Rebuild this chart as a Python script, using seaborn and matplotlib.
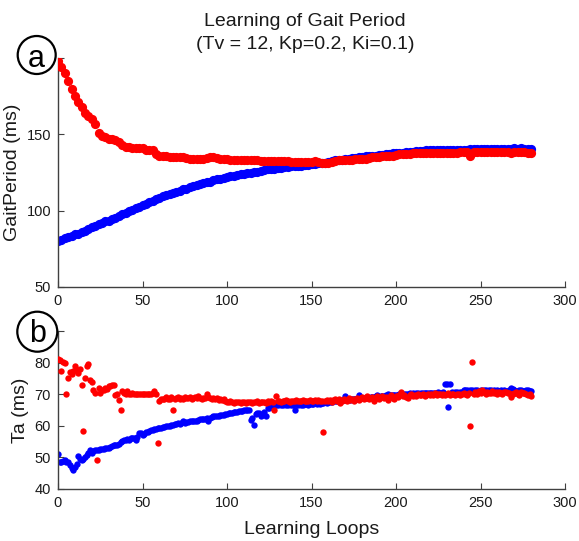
import numpy as np
import pandas as pd
import matplotlib
matplotlib.use("Agg")
import matplotlib.pyplot as plt
from matplotlib.patches import Ellipse
import seaborn as sns

# ---------------- data ----------------
title_line1 = "Learning of Gait Period"
title_line2 = "(Tv = 12, Kp=0.2, Ki=0.1)"

# top panel: gait period (ms), sampled every 2 learning loops
loops_top = list(range(0, 281, 2))
gait_red = [
    198, 194, 190, 185, 180, 175, 171, 168, 164, 162,
    160, 157, 151, 149, 148, 147, 147, 146, 145, 143,
    142, 142, 141, 141, 141, 141, 140, 140, 140, 137,
    136, 136, 135.5, 135, 135, 135, 135, 135, 134.5, 134,
    134, 134, 134, 134, 134.5, 135, 135, 134.5, 134, 134,
    134, 133.5, 133.5, 133.5, 133.5, 133, 133, 133, 133, 133,
    132.5, 132.5, 132.5, 132.5, 132.5, 132.5, 132.5, 132.5, 132.5, 132,
    132, 132, 132, 132, 132, 132, 132.5, 132, 131, 131,
    131.5, 132, 132.5, 133, 133, 133, 133.5, 133.5, 134, 134,
    134, 134, 134.5, 135, 135, 135, 135.5, 135.5, 136, 136,
    136.5, 137, 137, 137, 137, 137.5, 137.5, 137.5, 137.5, 137.5,
    138, 138, 138, 138, 138, 138, 138, 138, 138, 138.5,
    138.5, 138.5, 136, 138.5, 138.5, 138.5, 138.5, 138.5, 138.5, 138.5,
    138.5, 138.5, 138.5, 138.5, 137.5, 138.5, 138.5, 138.5, 138.5, 138,
    137.5,
]
gait_blue = [
    80, 81, 82, 83, 83.5, 84.5, 85, 86, 87, 88,
    89, 90, 91, 92, 93, 93.5, 94.5, 95.5, 96.5, 97.5,
    98.5, 99.5, 100.5, 101.5, 102.5, 103.5, 104.5, 105.5, 106.5, 107.5,
    108.5, 109.5, 110, 111, 111.5, 112.5, 113, 114, 114.5, 115.5,
    116, 116.5, 117.5, 118, 118.5, 119, 120, 120.5, 121, 121.5,
    122, 122.5, 123, 123.5, 124, 124, 124.5, 125, 125.5, 125.5,
    126, 126.5, 127, 127, 127.5, 128, 128, 128.5, 128.5, 129,
    129, 129.5, 129.5, 130, 130, 130.5, 130.5, 131, 131, 131.5,
    132, 132.5, 133, 133, 133.5, 134, 134, 134.5, 134.5, 135,
    135, 135.5, 135.5, 136, 136, 136.5, 136.5, 137, 137, 137.5,
    137.5, 138, 138, 138.5, 138.5, 138.5, 139, 139, 139, 139.5,
    139.5, 139.5, 139.5, 140, 140, 140, 140, 140, 140, 140,
    140, 140, 140.5, 140.5, 140.5, 140.5, 140.5, 140.5, 140.5, 140.5,
    140.5, 140.5, 140.5, 140.5, 140.5, 141, 140.5, 141, 140.5, 140.5,
    140.5,
]

# bottom panel: Ta (ms), every learning loop
loops_bot = list(range(0, 281))
ta_red = [
    81.2, 80.8, 77.2, 80.1, 80.0, 70.0, 75.0, 77.0, 76.5, 77.2,
    79.0, 77.8, 76.7, 78.0, 73.0, 58.2, 75.0, 78.8, 79.4, 74.6,
    74.0, 71.4, 70.5, 49.2, 72.0, 70.4, 71.4, 71.2, 72.0, 71.5,
    72.5, 72.5, 73.0, 73.0, 69.8, 70.0, 68.3, 64.9, 70.9, 70.5,
    70.0, 70.9, 70.0, 70.0, 70.5, 70.0, 70.0, 70.0, 70.0, 70.0,
    70.0, 70.0, 70.0, 70.0, 70.0, 70.0, 70.5, 70.9, 70.0, 54.5,
    67.7, 68.5, 68.5, 68.5, 69.0, 68.5, 68.5, 69.0, 65.0,
    68.5, 68.8, 69.0, 68.6, 68.9, 68.5, 69.0, 68.7, 68.9, 69.2,
    68.6, 68.8, 69.0, 68.7, 69.5, 68.8, 68.6, 68.9, 68.7, 70.2,
    69.0, 68.8, 68.6, 68.9, 68.5, 68.8, 68.3, 68.6, 68.2, 68.4, 68.0,
    67.5, 67.4, 67.8, 67.4, 67.3, 67.6, 67.4, 67.5, 67.2, 67.6,
    67.4, 67.3, 67.5, 67.4, 67.6, 67.3, 67.5, 67.4, 67.7, 67.2,
    67.5, 67.4, 67.6, 67.3, 67.8, 67.5, 68.0, 67.6,
    65.0, 69.5,
    67.8, 68.0, 67.6, 67.9, 67.7, 68.1, 67.8, 67.6, 68.0, 67.8,
    67.9, 68.1, 67.7, 68.0, 67.9, 68.2, 67.8, 68.0, 67.9, 68.1,
    67.8, 68.0, 68.2, 67.9, 68.1, 67.8, 68.0, 58.1, 67.9, 68.2,
    68.0, 68.3, 67.6, 68.2, 68.5, 67.8, 68.4, 67.2, 68.0, 68.6,
    68.3, 67.9, 68.8, 68.1, 68.5, 67.7, 68.6, 68.9, 68.2, 68.7,
    69.0, 68.4, 68.8, 69.3, 68.5, 68.9, 69.2, 68.0, 68.8, 69.4,
    68.6, 69.0, 69.5, 68.7, 69.1, 68.2, 69.0, 69.6, 68.9, 68.4,
    69.3, 69.0, 69.8, 70.6, 69.4, 69.9, 69.2, 68.9, 69.7, 70.0,
    69.5, 69.8, 69.3, 70.1, 69.6, 69.9, 70.2, 69.5, 69.8, 70.0,
    69.7, 70.1, 69.9, 70.3, 69.6, 70.0, 70.2, 69.8, 70.1, 69.9,
    70.0, 70.3, 69.7, 70.1, 70.0, 69.8, 70.2, 70.0, 69.6, 70.1,
    70.3, 70.0, 69.8, 70.4, 60.0, 80.1, 70.2, 70.6, 70.0, 71.0,
    70.4, 71.2, 70.7, 70.2, 70.8, 70.5, 70.3, 70.9, 70.4, 70.6,
    70.2, 70.7, 70.4, 70.0, 70.6, 70.8, 70.3, 70.5, 69.2, 70.1,
    70.4, 70.6, 70.2, 69.8, 70.7, 70.3, 70.5, 70.0, 69.7, 70.1, 69.5,
]
ta_blue = [
    51.1, 48.4, 48.4, 49.0, 49.2, 48.6, 48.7, 47.6, 46.5, 46.0,
    47.0, 48.0, 50.3, 49.5, 49.2, 49.5, 50.0, 50.8, 51.5, 52.4,
    51.5, 52.0, 52.4, 52.2, 52.4, 52.6, 52.6, 52.8, 53.0, 52.9,
    53.0, 53.3, 53.5, 53.8, 53.8, 54.0, 54.2, 54.8, 55.2, 55.6,
    55.5, 55.8, 55.5, 56.0, 56.0, 56.1, 55.5, 56.6, 57.7, 57.7,
    57.0, 57.5, 58.0, 58.0, 58.5, 58.7, 58.8, 59.0, 59.0, 59.2,
    59.3, 59.3, 59.6, 59.5, 59.8, 60.0, 60.0, 60.3, 60.4, 60.5,
    60.6, 60.8, 60.6, 61.0, 61.4, 61.0, 61.2, 61.3, 61.4, 61.4,
    61.5, 61.6, 61.4, 61.8, 62.0, 62.0, 62.3, 62.3, 62.5, 61.5,
    62.6, 62.8, 63.0, 63.0, 63.2, 63.2, 63.3, 63.5, 63.5, 63.6,
    63.8, 64.0, 64.2, 64.2, 64.3, 64.5, 64.5, 64.6, 64.8, 64.8,
    65.0, 65.0, 65.0, 65.0, 61.9, 62.5, 60.3, 63.6, 64.2, 64.2,
    63.2, 63.5, 64.5, 63.2, 65.6, 65.6, 66.0, 66.2, 66.5, 66.7,
    66.7, 66.8, 66.5, 66.7, 66.9, 66.6, 66.7, 66.8, 66.5, 66.7,
    65.0, 66.8, 66.6, 66.9, 66.7, 66.5, 66.8, 67.0, 66.7, 66.9,
    66.8, 67.0, 67.1, 66.8, 67.2, 67.0, 67.3, 67.1, 67.4, 67.2,
    67.5, 67.4, 67.6, 67.8, 67.7, 67.9, 68.0, 67.8, 68.1, 68.2,
    69.3, 68.2, 68.4, 68.3, 68.5, 68.4, 68.6, 68.5, 69.6, 68.7,
    68.8, 68.7, 68.9, 69.0, 68.9, 69.1, 69.0, 69.2, 69.3, 69.6,
    69.2, 69.4, 69.3, 69.5, 69.8, 70.1, 69.5, 69.7, 69.6, 69.8,
    69.9, 69.8, 70.0, 70.1, 69.9, 70.2, 70.0, 70.1, 70.3, 70.2,
    70.3, 70.1, 70.4, 70.3, 70.2, 70.4, 70.3, 70.5, 70.4, 70.3,
    70.5, 70.4, 70.5, 70.3, 70.5, 70.6, 70.4, 70.5, 70.6, 73.2,
    73.2, 65.9, 73.2, 70.6, 70.5, 70.7, 70.6, 70.5, 70.7, 70.8,
    71.2, 71.3, 71.2, 71.0, 71.3, 71.2, 71.1, 71.3, 71.2, 71.0,
    71.2, 71.1, 71.3, 71.2, 71.0, 71.2, 71.3, 71.1, 71.2, 71.0,
    71.2, 71.1, 71.3, 71.0, 71.2, 71.1, 70.8, 71.2, 72.0, 71.5,
    71.2, 71.0, 71.1, 71.3, 71.2, 71.0, 71.1, 71.3, 71.2, 71.1, 71.0,
]

xticks = [0, 50, 100, 150, 200, 250, 300]
yticks_top = [50, 100, 150, 200]
ytick_labels_top = ["50", "100", "150", ""]
yticks_bot = [40, 50, 60, 70, 80, 90]
ytick_labels_bot = ["40", "50", "60", "70", "80", ""]

# ---------------- style ----------------
sns.set_style("ticks")
plt.rcParams["font.family"] = ["Liberation Sans", "DejaVu Sans"]
AX_COL = "#404040"
TXT_COL = "#1a1a1a"

W, H = 579, 541
fig = plt.figure(figsize=(W / 100, H / 100), dpi=100)

def px_axes(left, top, right, bottom):
    return fig.add_axes([left / W, 1 - bottom / H, (right - left) / W, (bottom - top) / H])

ax1 = px_axes(58, 58, 565, 287)
ax2 = px_axes(58, 331, 565, 489)

df_top = pd.DataFrame({"loop": loops_top, "red": gait_red, "blue": gait_blue})
df_bot = pd.DataFrame({"loop": loops_bot, "red": ta_red, "blue": ta_blue})

sns.scatterplot(data=df_top, x="loop", y="blue", ax=ax1, color="#0000ff",
                s=44, linewidth=0, zorder=2)
sns.scatterplot(data=df_top, x="loop", y="red", ax=ax1, color="#ff0000",
                s=44, linewidth=0, zorder=3)
sns.scatterplot(data=df_bot, x="loop", y="blue", ax=ax2, color="#0000ff",
                s=21, linewidth=0, zorder=2)
sns.scatterplot(data=df_bot, x="loop", y="red", ax=ax2, color="#ff0000",
                s=21, linewidth=0, zorder=3)

for ax, yt, ytl, ylim, ylab in [
    (ax1, yticks_top, ytick_labels_top, (50, 200), "GaitPeriod (ms)"),
    (ax2, yticks_bot, ytick_labels_bot, (40, 90), "Ta (ms)"),
]:
    ax.set_xlim(0, 300)
    ax.set_ylim(*ylim)
    ax.set_xticks(xticks)
    ax.set_xticklabels([str(t) for t in xticks])
    ax.set_yticks(yt)
    ax.set_yticklabels(ytl)
    sns.despine(ax=ax)
    for sp in ("left", "bottom"):
        ax.spines[sp].set_color(AX_COL)
        ax.spines[sp].set_linewidth(1.0)
    ax.tick_params(direction="in", length=4, width=0.8, color=AX_COL,
                   labelsize=10.5, labelcolor=TXT_COL, pad=5)
    ax.set_ylabel(ylab, fontsize=14, color=TXT_COL, labelpad=4)
    ax.set_xlabel("")

ax2.set_xlabel("Learning Loops", fontsize=14, color=TXT_COL, labelpad=8)

fig.text(305 / W, 1 - 26 / H, title_line1, ha="center", va="baseline",
         fontsize=14, color=TXT_COL)
fig.text(305 / W, 1 - 49 / H, title_line2, ha="center", va="baseline",
         fontsize=14, color=TXT_COL)

# circled panel letters
for letter, cx, cy, r, base in [("a", 36.7, 55, 19, 67), ("b", 37.3, 331.7, 20, 342)]:
    fig.add_artist(Ellipse((cx / W, 1 - cy / H), width=2 * r / W, height=2 * r / H,
                           transform=fig.transFigure, facecolor="white",
                           edgecolor="black", linewidth=1.6, zorder=10))
    t = fig.text(cx / W, 1 - base / H, letter, ha="center", va="baseline",
                 fontsize=22, color="black", zorder=11)

fig.savefig("out.png", dpi=100)
